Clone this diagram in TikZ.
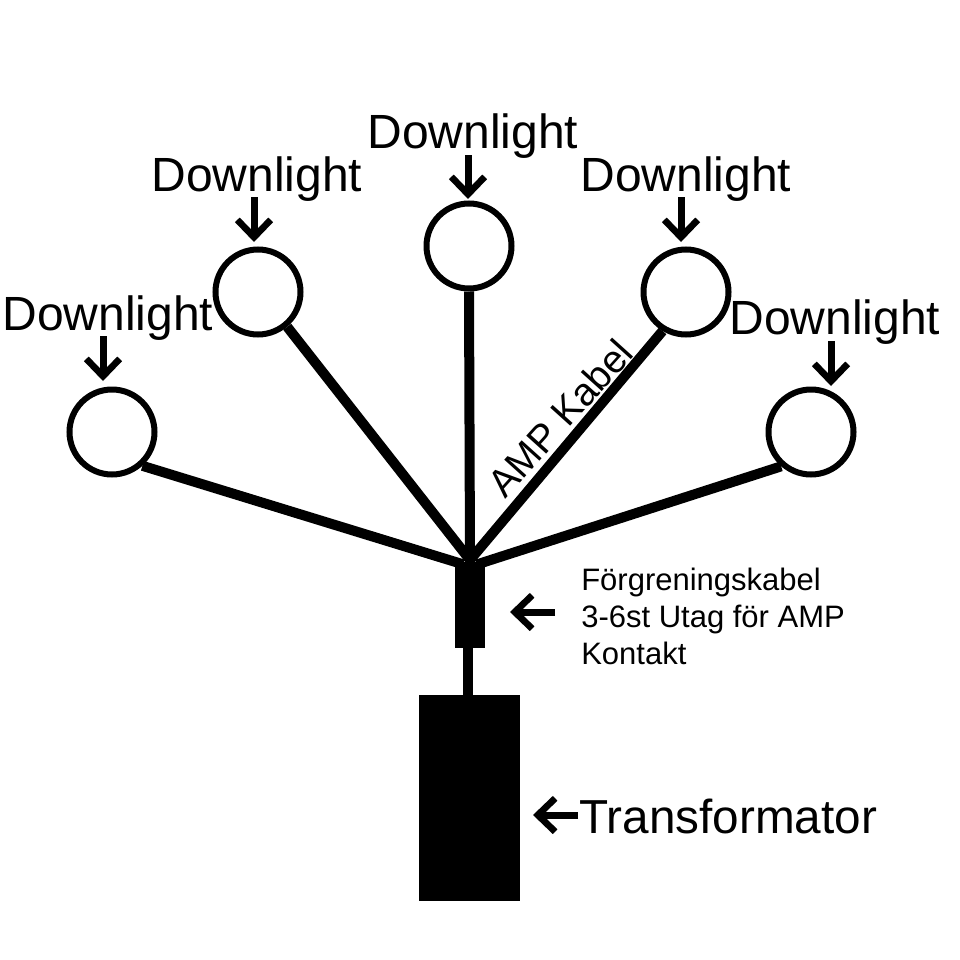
\documentclass[tikz,border=0pt]{standalone}
\usepackage{fontspec}
\setmainfont{Liberation Sans}
\usetikzlibrary{arrows.meta}
\newlength{\upx}
\setlength{\upx}{0.75pt}
\tikzset{x=\upx,y=-\upx,
 lamp/.style={circle,draw=black,line width=6\upx,fill=white,minimum size=85\upx,inner sep=0pt},
 cable/.style={line width=10\upx,draw=black},
 pointer/.style={line width=7\upx,draw=black,-{Straight Barb[length=13pt,width=25pt,line width=5pt]}},
 dl/.style={font=\fontsize{48\upx}{52\upx}\selectfont,inner sep=0pt},
 block/.style={fill=black,inner sep=0pt}
}
\begin{document}
\begin{tikzpicture}
\useasboundingbox (0,0) rectangle (960,960);
\coordinate (hub) at (470,560);
\node[block,minimum width=30\upx,minimum height=86\upx] (conn) at (470,605) {};
\node[block,minimum width=101\upx,minimum height=206\upx] (trafo) at (469.5,798) {};
\draw[cable] (conn.south) ++(-2,-2) -- ++(0,52);
\node[lamp] (l1) at (112,432) {};
\node[lamp] (l2) at (258,292) {};
\node[lamp] (l3) at (469,246) {};
\node[lamp] (l4) at (686,292) {};
\node[lamp] (l5) at (811,432) {};
\draw[cable,shorten >=-9\upx] (l1.312) -- (conn.north west);
\draw[cable] (l2.310) -- (hub);
\draw[cable] (l3.south) -- (hub);
\draw[cable] (l4.239) -- (hub);
\draw[cable,shorten >=-9\upx] (l5.229) -- (conn.north east);
\draw[cable] (hub) -- (conn.north);
\node[dl] (t1) at (108,318) {Downlight};
\node[dl] (t2) at (257,179) {Downlight};
\node[dl] (t3) at (473,136) {Downlight};
\node[dl] (t4) at (686,179) {Downlight};
\node[dl] (t5) at (835,322) {Downlight};
\coordinate (a1) at (103,336); \coordinate (b1) at (103,381);
\coordinate (a2) at (254,197); \coordinate (b2) at (254,242);
\coordinate (a3) at (468,155); \coordinate (b3) at (468,199);
\coordinate (a4) at (681,197); \coordinate (b4) at (681,242);
\coordinate (a5) at (831,341); \coordinate (b5) at (831,386);
\foreach \i in {1,...,5} \draw[pointer] (a\i) -- (b\i);
\node[rotate=48,font=\fontsize{39\upx}{43\upx}\selectfont,inner sep=0pt] (amp) at (560,418) {AMP Kabel};
\node[font=\fontsize{31\upx}{37\upx}\selectfont,align=left,anchor=north west,inner sep=0pt] (lab) at (581,568) {Förgreningskabel\\3-6st Utag för AMP\\Kontakt};
\coordinate (c1) at (555,612); \coordinate (c2) at (510,612);
\draw[pointer] (c1) -- (c2);
\node[font=\fontsize{47.7\upx}{52\upx}\selectfont,inner sep=0pt,anchor=west] (tr) at (579,816) {Transformator};
\coordinate (d1) at (578,815); \coordinate (d2) at (533,815);
\draw[pointer] (d1) -- (d2);
\end{tikzpicture}
\end{document}
